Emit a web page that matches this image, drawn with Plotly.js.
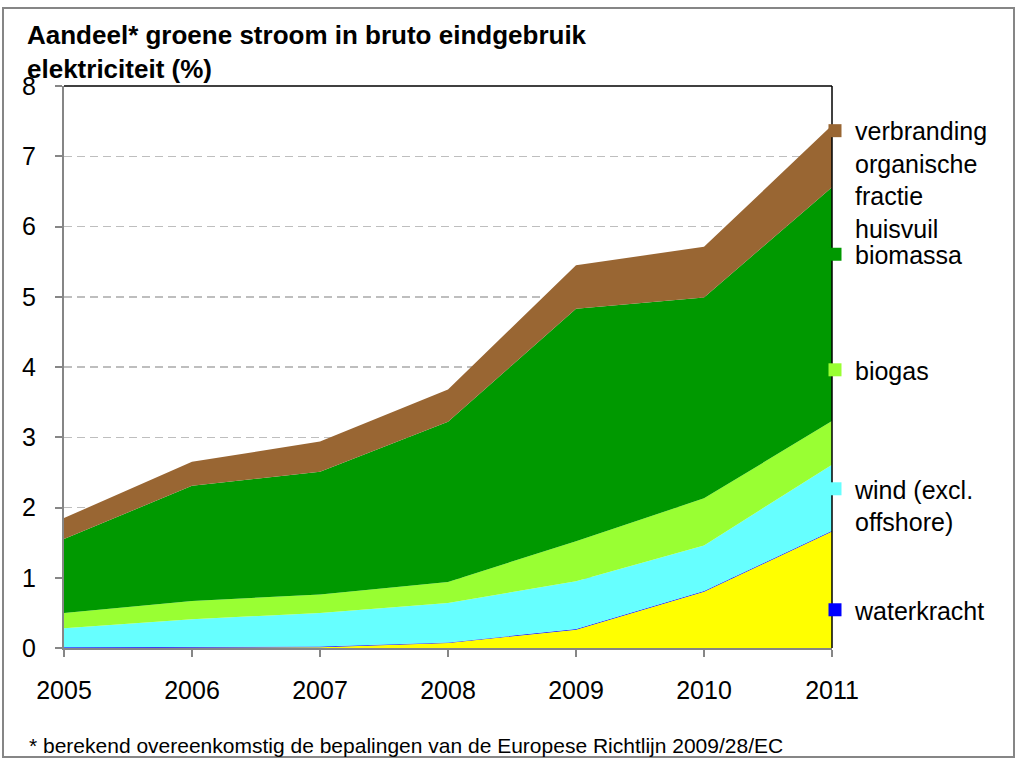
<!DOCTYPE html>
<html>
<head>
<meta charset="utf-8">
<script src="https://cdn.plot.ly/plotly-3.0.1.min.js"></script>
<style>html,body{margin:0;padding:0;background:#fff;}#chart{width:1019px;height:765px;}</style>
</head>
<body>
<div id="chart"></div>
<script>
// ---- data (percent of gross final electricity consumption) ----
const years = [2005, 2006, 2007, 2008, 2009, 2010, 2011];
const unlabeled = [0.00, 0.00, 0.01, 0.07, 0.26, 0.80, 1.66];
const waterkracht = [0.01, 0.01, 0.01, 0.01, 0.01, 0.01, 0.01];
const wind = [0.27, 0.40, 0.48, 0.56, 0.68, 0.65, 0.94];
const biogas = [0.22, 0.26, 0.26, 0.30, 0.57, 0.67, 0.62];
const biomassa = [1.05, 1.64, 1.75, 2.28, 3.31, 2.86, 3.33];
const verbranding = [0.30, 0.34, 0.43, 0.46, 0.62, 0.72, 0.88];
const yTicks = [0, 1, 2, 3, 4, 5, 6, 7, 8];

const seriesNames = ['', 'waterkracht', 'wind (excl.<br>offshore)', 'biogas', 'biomassa', 'verbranding<br>organische<br>fractie<br>huisvuil'];
const seriesData = [unlabeled, waterkracht, wind, biogas, biomassa, verbranding];
const seriesColors = ['#FFFF00', '#0000FF', '#66FFFF', '#99FF33', '#009900', '#996633'];

const FONT = 'Liberation Sans, Arial, sans-serif';

const traces = [];
seriesData.forEach((vals, i) => {
  traces.push({
    type: 'scatter', x: years, y: vals, stackgroup: 'one', mode: 'lines',
    line: {width: 0, color: seriesColors[i]}, fillcolor: seriesColors[i],
    name: seriesNames[i] || 'overig', showlegend: false, hoverinfo: 'x+y+name'
  });
});

// legend keys (one legend per entry so each can sit beside its band)
const legendIds = ['legend', 'legend2', 'legend3', 'legend4', 'legend5'];
const legendY = [0.961, 0.741, 0.5355, 0.3238, 0.1085];
const legendOrder = [5, 4, 3, 2, 1];
legendOrder.forEach((si, k) => {
  traces.push({
    type: 'scatter', x: [null], y: [null], mode: 'markers',
    marker: {symbol: 'square', size: 13, color: seriesColors[si]},
    name: seriesNames[si], legend: legendIds[k], showlegend: true, hoverinfo: 'skip'
  });
});

const layout = {
  width: 1019, height: 765,
  margin: {l: 64, r: 187, t: 86, b: 117},
  paper_bgcolor: '#fff', plot_bgcolor: '#fff',
  font: {family: FONT, color: '#000', size: 25},
  title: {
    text: 'Aandeel* groene stroom in bruto eindgebruik<br>elektriciteit (%)',
    font: {family: FONT, size: 26, weight: 'bold', color: '#000'},
    xref: 'container', yref: 'container', x: 27/1019, xanchor: 'left',
    y: 1 - 44/765, yanchor: 'top'
  },
  xaxis: {
    type: 'linear', range: [2005, 2011], tickvals: years, ticktext: years.map(String),
    ticks: 'outside', ticklen: 7, tickwidth: 2, tickcolor: '#868686',
    showline: true, linecolor: '#868686', linewidth: 2,
    showgrid: false, zeroline: false, ticklabelstandoff: 12,
    tickfont: {family: FONT, size: 25, color: '#000'}, fixedrange: true
  },
  yaxis: {
    range: [0, 8], tickvals: yTicks,
    ticks: 'outside', ticklen: 7, tickwidth: 2, tickcolor: '#868686',
    showline: true, linecolor: '#868686', linewidth: 2,
    showgrid: true, gridcolor: '#BEBEBE', gridwidth: 1.5, griddash: '8px,5px',
    zeroline: false, ticklabelstandoff: 14,
    tickfont: {family: FONT, size: 25, color: '#000'}, fixedrange: true
  },
  shapes: [
    {type: 'line', xref: 'paper', yref: 'paper', x0: 0, x1: 1, y0: 1, y1: 1, line: {color: '#000', width: 1.5}},
    {type: 'line', xref: 'paper', yref: 'paper', x0: 1, x1: 1, y0: 0, y1: 1, line: {color: '#000', width: 1.5}},
    {type: 'rect', xref: 'paper', yref: 'paper', x0: (3-64)/768, x1: (1014-64)/768, y0: (648-757)/562, y1: (648-8)/562, line: {color: '#868686', width: 2}, layer: 'below'}
  ],
  annotations: [
    {text: '* berekend overeenkomstig de bepalingen van de Europese Richtlijn 2009/28/EC',
     xref: 'paper', yref: 'paper', x: (27-64)/768, y: (648-745)/562, xanchor: 'left', yanchor: 'middle',
     showarrow: false, font: {family: FONT, size: 21, color: '#000'}}
  ]
};
legendIds.forEach((id, k) => {
  layout[id] = {
    x: (815-64)/768, xanchor: 'left', y: legendY[k], yanchor: 'top',
    bgcolor: 'rgba(0,0,0,0)', borderwidth: 0, valign: 'top',
    font: {family: FONT, size: 25, color: '#000'}, itemclick: false, itemdoubleclick: false
  };
});

Plotly.newPlot('chart', traces, layout, {displayModeBar: false, staticPlot: true});
</script>
</body>
</html>
